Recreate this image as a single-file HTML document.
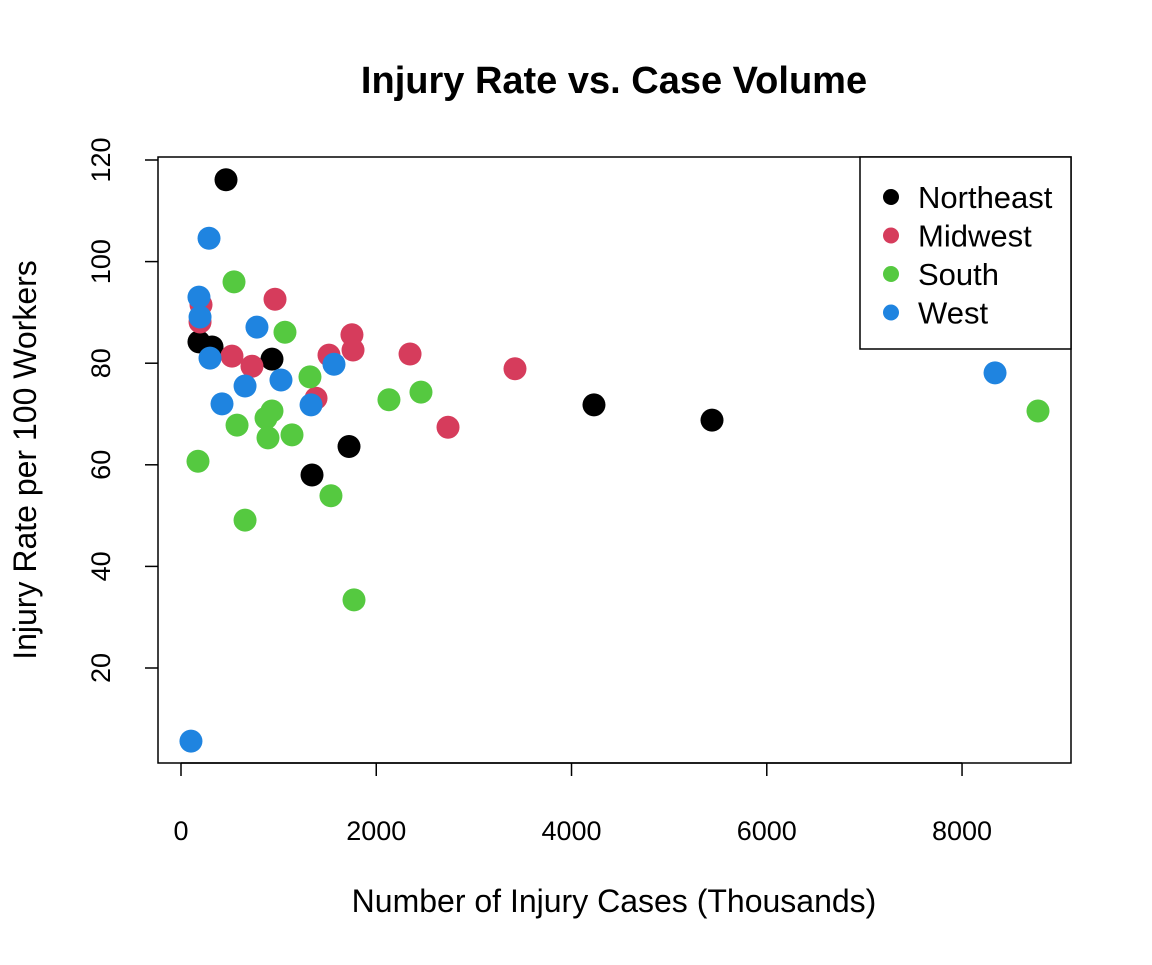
<!DOCTYPE html>
<html><head><meta charset="utf-8"><style>
body{margin:0;background:#fff}
svg text{font-family:"Liberation Sans",Arial,sans-serif;fill:#000}
</style></head><body>
<svg id="c" width="1152" height="960" xmlns="http://www.w3.org/2000/svg">
<rect width="1152" height="960" fill="#fff"/>
<text x="614" y="93" text-anchor="middle" font-size="38" font-weight="bold">Injury Rate vs. Case Volume</text>
<text x="614" y="912" text-anchor="middle" font-size="32">Number of Injury Cases (Thousands)</text>
<text transform="translate(36,460) rotate(-90)" text-anchor="middle" font-size="32">Injury Rate per 100 Workers</text>
<rect x="158" y="157" width="913" height="606" fill="none" stroke="#000" stroke-width="1.5"/>
<g id="axes"></g>
<g id="pts"></g>
<g id="legend">
<rect x="860" y="157" width="211" height="192" fill="#fff" stroke="#000" stroke-width="1.5"/>
</g>
</svg>
<script>
const regions=["Northeast","Midwest","South","West"];
const colors=["#000000","#D63C5C","#55C940","#1F84E0"];
const neX=[461,184,318,932,1721,1342,4230,5439];
const neY=[116.1,84.2,83.2,80.8,63.6,58.0,71.8,68.8];
const mwX=[205,195,963,522,727,1751,1762,1516,2346,1383,2735,3421];
const mwY=[91.5,88.1,92.6,81.4,79.4,85.6,82.6,81.6,81.8,73.1,67.4,78.9];
const soX=[543,1065,1321,2130,2458,932,871,574,891,1137,174,1536,656,1772,8778];
const soY=[96.0,86.1,77.3,72.8,74.3,70.6,69.2,67.8,65.3,65.9,60.7,53.9,49.1,33.4,70.6];
const weX=[287,184,195,297,778,656,1024,420,1567,1332,8338,102];
const weY=[104.6,93.0,89.1,81.0,87.1,75.5,76.7,72.0,79.8,71.8,78.1,5.6];
const xTicks=[0,2000,4000,6000,8000];
const yTicks=[20,40,60,80,100,120];
const NS="http://www.w3.org/2000/svg";
function sx(v){return 181+v*0.09763;}
function sy(v){return 160+(120-v)*5.08;}
function mk(t,a,p){const e=document.createElementNS(NS,t);for(const k in a)e.setAttribute(k,a[k]);p.appendChild(e);return e;}
const ax=document.getElementById('axes');
xTicks.forEach(v=>{
 const l=mk('line',{x1:sx(v),x2:sx(v),y1:763,y2:776,stroke:'#000','stroke-width':1.5},ax);
 
 
 const t=mk('text',{x:sx(v),y:840,'text-anchor':'middle','font-size':27},ax);t.textContent=v;
 
 
});
mk('line',{x1:sx(0),x2:sx(8000),y1:763,y2:763,stroke:'#000','stroke-width':1.5},ax);
yTicks.forEach(v=>{
 const l=mk('line',{x1:145,x2:158,y1:sy(v),y2:sy(v),stroke:'#000','stroke-width':1.5},ax);
 
 
 const t=mk('text',{transform:`translate(110,${sy(v)}) rotate(-90)`,'text-anchor':'middle','font-size':27},ax);t.textContent=v;
 
 
});
const pg=document.getElementById('pts');
[[neX,neY],[mwX,mwY],[soX,soY],[weX,weY]].forEach((s,i)=>{
 s[0].forEach((x,j)=>{
  const c=mk('circle',{cx:sx(x),cy:sy(s[1][j]),r:11.5,fill:colors[i]},pg);
  
  
 });
});
const lg=document.getElementById('legend');
regions.forEach((r,i)=>{
 const y=197+i*38.5;
 const c=mk('circle',{cx:891,cy:y,r:8,fill:colors[i]},lg);
 
 
 const t=mk('text',{x:918,y:y+11,'font-size':31},lg);t.textContent=r;
 
 
});
</script>
</body></html>
